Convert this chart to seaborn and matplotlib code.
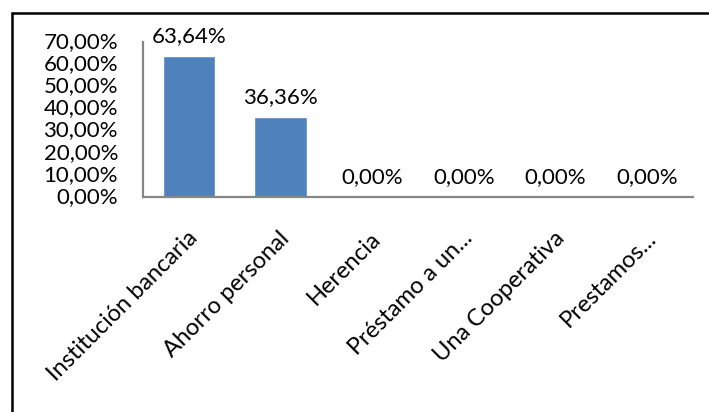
import matplotlib
matplotlib.use("Agg")
import matplotlib.pyplot as plt
import matplotlib.transforms as mtransforms
from matplotlib.lines import Line2D
import seaborn as sns
import pandas as pd

categories = ["Institución bancaria", "Ahorro personal", "Herencia",
              "Préstamo a un...", "Una Cooperativa", "Prestamos..."]
values = [63.64, 36.36, 0.0, 0.0, 0.0, 0.0]
y_ticks = [0, 10, 20, 30, 40, 50, 60, 70]

sns.set_theme(style="white")
plt.rcParams["font.family"] = ["Lato", "DejaVu Sans"]

df = pd.DataFrame({"categoria": categories, "valor": values})

fig = plt.figure(figsize=(7.09, 4.12), dpi=100)
ax = fig.add_axes([0.2017, 0.5218, 0.7757, 0.3762])

sns.barplot(data=df, x="categoria", y="valor", color="#4F81BD",
            width=0.57, saturation=1, ax=ax)

ax.set_ylim(0, 70)
ax.set_xlim(-0.5, len(categories) - 0.5)
ax.set_yticks(y_ticks)
ax.set_yticklabels([f"{t:.2f}%".replace(".", ",") for t in y_ticks],
                   fontsize=16, color="black")
ax.tick_params(axis="y", length=0, pad=18)
up = mtransforms.ScaledTranslation(0, 2 / 100, fig.dpi_scale_trans)
for lbl in ax.get_yticklabels():
    lbl.set_transform(lbl.get_transform() + up)

ax.set_xticks(range(len(categories)))
ax.set_xticklabels(categories, rotation=45, ha="right",
                   rotation_mode="anchor", fontsize=17, color="black")
ax.tick_params(axis="x", length=0, pad=22)
shift = mtransforms.ScaledTranslation(-2 / 100, 0, fig.dpi_scale_trans)
for lbl in ax.get_xticklabels():
    lbl.set_transform(lbl.get_transform() + shift)
ax.set_xlabel("")
ax.set_ylabel("")

for side in ["top", "right"]:
    ax.spines[side].set_visible(False)
for side in ["left", "bottom"]:
    ax.spines[side].set_color("#868686")
    ax.spines[side].set_linewidth(1.6)

# value labels above each bar
for bar, v in zip(ax.patches, values):
    ax.annotate(f"{v:.2f}%".replace(".", ","),
                (bar.get_x() + bar.get_width() / 2, bar.get_height()),
                xytext=(0, 7), textcoords="offset points",
                ha="center", va="bottom", fontsize=16, color="black")

# chart frame (top and left edges)
fig.add_artist(Line2D([11.5 / 709, 1.0], [1 - 12.5 / 412, 1 - 12.5 / 412],
                      transform=fig.transFigure, color="black", linewidth=1.8))
fig.add_artist(Line2D([11.5 / 709, 11.5 / 709], [0.0, 1 - 12.5 / 412],
                      transform=fig.transFigure, color="black", linewidth=1.8))

fig.savefig("out.png", dpi=100)
